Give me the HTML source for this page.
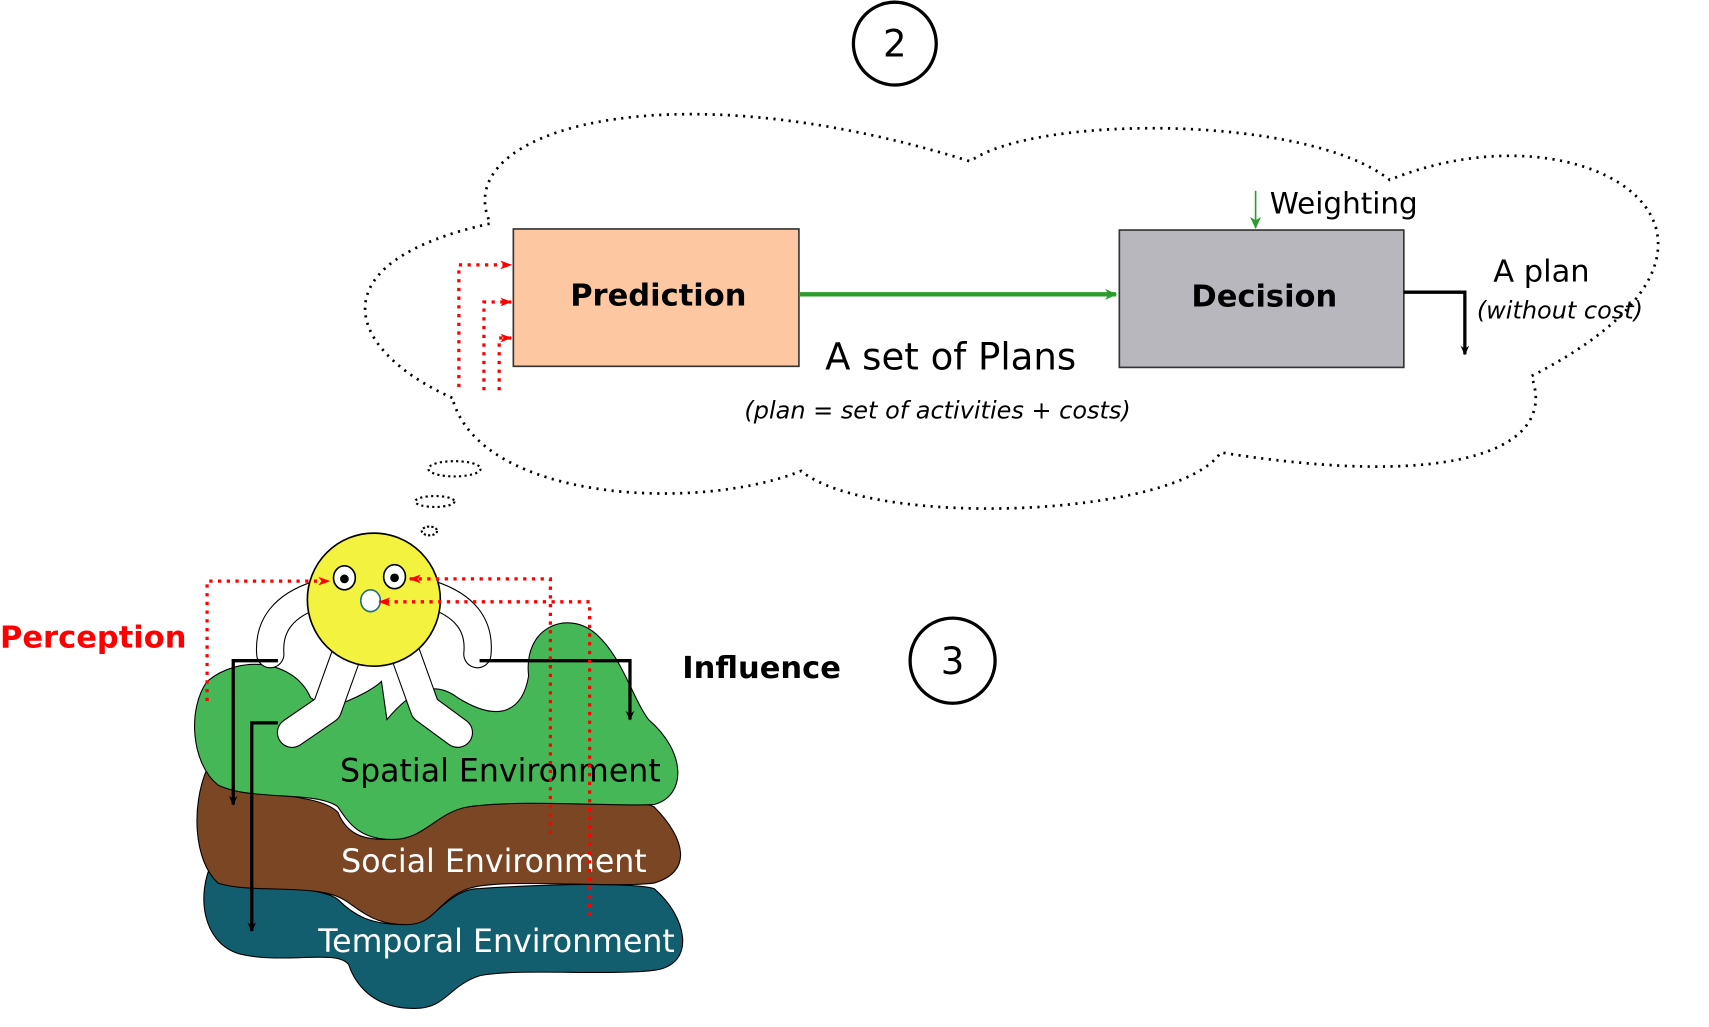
<!DOCTYPE html>
<html><head><meta charset="utf-8"><style>html,body{margin:0;padding:0;background:#fff}svg{display:block}</style></head>
<body>
<svg width="1709" height="1027" viewBox="0 0 1568 942" preserveAspectRatio="none" xmlns="http://www.w3.org/2000/svg" font-family="DejaVu Sans, sans-serif">
<defs>
<marker id="ab" markerWidth="10" markerHeight="10" refX="8" refY="5" orient="auto" markerUnits="userSpaceOnUse"><path d="M0,1 L9,5 L0,9 L3,5 Z" fill="#000"/></marker>
<marker id="ag" markerWidth="12" markerHeight="12" refX="10" refY="6" orient="auto" markerUnits="userSpaceOnUse"><path d="M0,1 L11,6 L0,11 L3,6 Z" fill="#2a9d2a"/></marker>
<marker id="ar" markerWidth="12" markerHeight="10" refX="10" refY="5" orient="auto" markerUnits="userSpaceOnUse"><path d="M0,1 L11,5 L0,9 L3,5 Z" fill="#f00"/></marker>
</defs>
<circle cx="821" cy="40" r="38" fill="none" stroke="#000" stroke-width="3"/>
<text x="821" y="52" font-size="34" text-anchor="middle">2</text>
<circle cx="874" cy="606" r="39" fill="none" stroke="#000" stroke-width="3"/>
<text x="874" y="618" font-size="34" text-anchor="middle">3</text>
<path d="M415,365 C315,320 290,240 450,205 C410,120 610,60 890,148 C950,105 1200,105 1275,165 C1460,90 1650,220 1405,345 C1430,410 1340,450 1120,415 C1080,475 800,485 735,432 C640,470 440,460 415,365 Z" fill="none" stroke="#000" stroke-width="2.5" stroke-dasharray="2,5"/>
<ellipse cx="417" cy="430" rx="24" ry="7" fill="none" stroke="#000" stroke-width="2" stroke-dasharray="2,3"/>
<ellipse cx="399" cy="460" rx="18" ry="5" fill="none" stroke="#000" stroke-width="2" stroke-dasharray="2,3"/>
<ellipse cx="394" cy="487" rx="7" ry="4" fill="none" stroke="#000" stroke-width="2" stroke-dasharray="2,2"/>
<rect x="471" y="210" width="262" height="126" fill="#fdc8a1" stroke="#333" stroke-width="1.5"/>
<text x="604" y="280" font-size="28" font-weight="bold" text-anchor="middle">Prediction</text>
<rect x="1027" y="211" width="261" height="126" fill="#b8b7be" stroke="#333" stroke-width="1.5"/>
<text x="1160" y="281" font-size="28" font-weight="bold" text-anchor="middle">Decision</text>
<line x1="733" y1="270" x2="1024" y2="270" stroke="#2a9d2a" stroke-width="4" marker-end="url(#ag)"/>
<line x1="1152" y1="175" x2="1152" y2="209" stroke="#2a9d2a" stroke-width="1.5" marker-end="url(#ag)"/>
<text x="1165" y="196" font-size="27">Weighting</text>
<text x="1370" y="258" font-size="28">A plan</text>
<text x="1355" y="292" font-size="22" font-style="italic">(without cost)</text>
<path d="M1288,268 L1344,268 L1344,325" fill="none" stroke="#000" stroke-width="3" marker-end="url(#ab)"/>
<text x="757" y="339" font-size="34">A set of Plans</text>
<text x="683" y="384" font-size="22" font-style="italic">(plan = set of activities  + costs)</text>
<g fill="none" stroke="#f00" stroke-width="3" stroke-dasharray="3,5">
<path d="M421,355 L421,243 L469,243" marker-end="url(#ar)"/>
<path d="M444,358 L444,277 L469,277" marker-end="url(#ar)"/>
<path d="M458,358 L458,310 L469,310" marker-end="url(#ar)"/>
</g>
<path d="M195,790 C230,820 290,810 310,825 C325,840 340,848 370,848 C400,848 410,815 440,815 C520,810 580,810 600,815 C630,840 640,885 600,890 C560,895 470,888 440,895 C410,905 410,925 380,925 C340,925 325,900 320,885 C310,870 260,885 220,875 C185,865 180,820 195,790 Z" fill="#135e6e" stroke="#000" stroke-width="1"/>
<path d="M190,705 C230,735 290,725 310,745 C320,770 340,770 360,770 C390,770 400,740 430,738 C500,735 580,730 600,740 C630,770 635,800 600,810 C560,815 460,805 430,815 C400,825 400,850 370,848 C340,848 325,830 315,825 C290,810 230,820 200,810 C178,790 175,740 190,705 Z" fill="#7a4623" stroke="#000" stroke-width="1"/>
<path d="M190,625 C220,600 270,605 285,640 L300,650 C330,640 345,630 350,625 L355,660 C380,630 400,625 420,640 C460,665 480,650 485,620 C480,575 520,560 545,580 C570,600 580,640 595,660 C630,690 630,730 600,738 C560,740 480,733 430,740 C400,745 390,770 360,770 C330,770 320,755 310,740 C290,725 230,735 200,720 C175,700 172,650 190,625 Z" fill="#46b757" stroke="#000" stroke-width="1"/>
<g fill="none" stroke-linecap="round" stroke-linejoin="round">
<path d="M292,545 Q245,560 248,600" stroke="#000" stroke-width="26"/>
<path d="M395,545 Q442,560 438,600" stroke="#000" stroke-width="26"/>
<path d="M318,600 L300,650 L268,672" stroke="#000" stroke-width="28"/>
<path d="M372,600 L390,650 L420,672" stroke="#000" stroke-width="28"/>
<path d="M292,545 Q245,560 248,600" stroke="#fff" stroke-width="24"/>
<path d="M395,545 Q442,560 438,600" stroke="#fff" stroke-width="24"/>
<path d="M318,600 L300,650 L268,672" stroke="#fff" stroke-width="26"/>
<path d="M372,600 L390,650 L420,672" stroke="#fff" stroke-width="26"/>
</g>
<circle cx="343" cy="550" r="61" fill="#f2f23f" stroke="#000" stroke-width="1.5"/>
<ellipse cx="316" cy="530" rx="10" ry="11" fill="#fff" stroke="#000" stroke-width="1.5"/>
<circle cx="316" cy="531" r="4" fill="#000"/>
<ellipse cx="362" cy="529" rx="10" ry="11" fill="#fff" stroke="#000" stroke-width="1.5"/>
<circle cx="362" cy="530" r="4" fill="#000"/>
<ellipse cx="340" cy="551" rx="9" ry="10" fill="#fff" stroke="#1d6e8a" stroke-width="1.5"/>
<text x="312" y="717" font-size="29">Spatial Environment</text>
<text x="313" y="800" font-size="29" fill="#fff">Social Environment</text>
<text x="292" y="873" font-size="29" fill="#fff">Temporal Environment</text>
<g fill="none" stroke="#000" stroke-width="3">
<path d="M255,606 L214,606 L214,738" marker-end="url(#ab)"/>
<path d="M255,663 L231,663 L231,854" marker-end="url(#ab)"/>
<path d="M440,606 L578,606 L578,660" marker-end="url(#ab)"/>
</g>
<g fill="none" stroke="#f00" stroke-width="3" stroke-dasharray="3,5">
<path d="M190,643 L190,533 L302,533" marker-end="url(#ar)"/>
<path d="M505,765 L505,531 L376,531" marker-end="url(#ar)"/>
<path d="M541,840 L541,552 L348,552" marker-end="url(#ar)"/>
</g>
<text x="0" y="594" font-size="28" font-weight="bold" fill="#f00">Perception</text>
<text x="626" y="622" font-size="28" font-weight="bold">Influence</text>
</svg>
</body></html>
